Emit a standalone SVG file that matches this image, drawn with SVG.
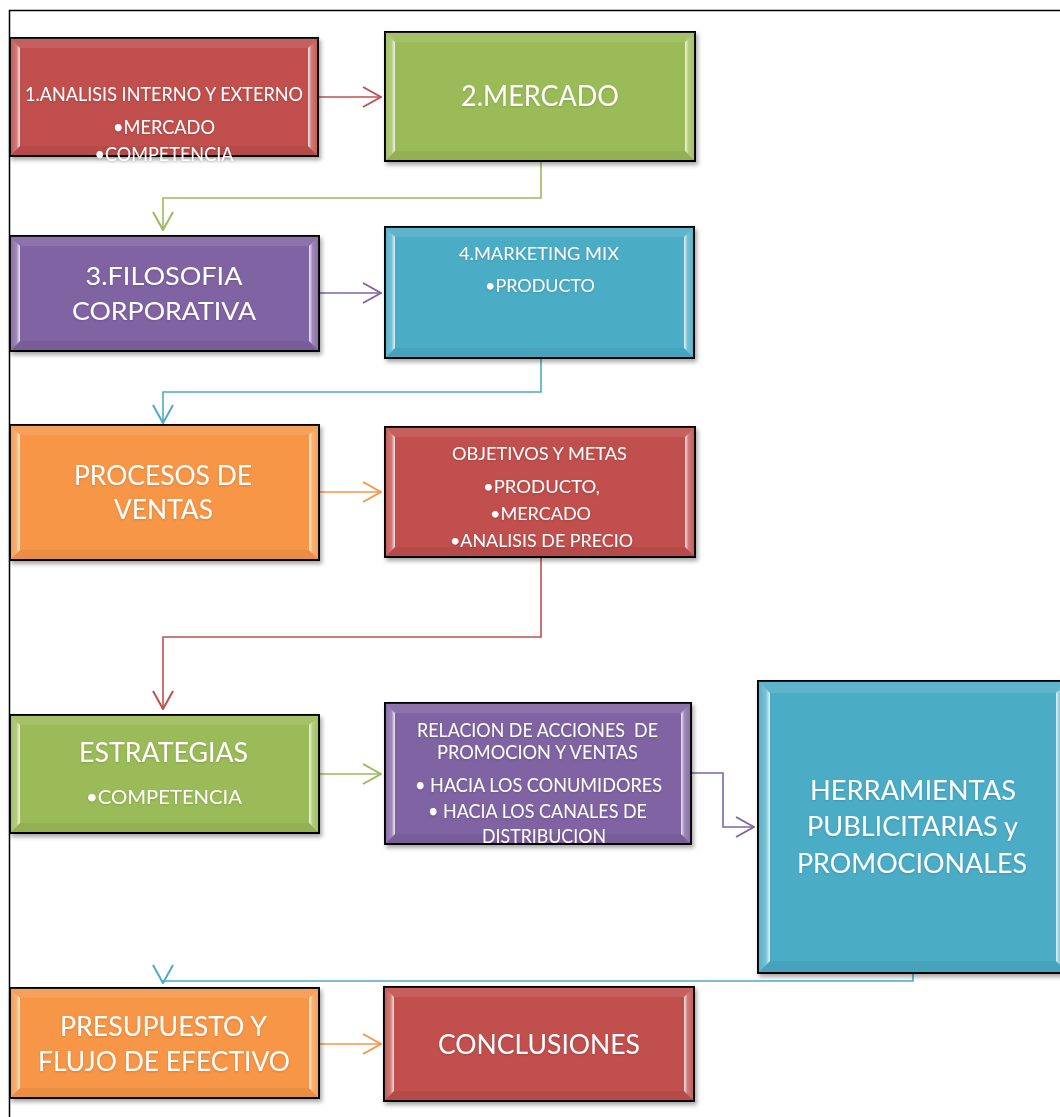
<svg xmlns="http://www.w3.org/2000/svg" width="1060" height="1117" viewBox="0 0 1060 1117">
<style>
.box{stroke:#000;stroke-width:2}
.red{fill:#C0504D}.green{fill:#9BBB59}.purple{fill:#8064A2}.teal{fill:#4BACC6}.orange{fill:#F79646}
.fl{fill:url(#gL)}.fr{fill:url(#gR)}.ft{fill:#fff;fill-opacity:0.1}.fb{fill:#000;fill-opacity:0.05}
text{fill:#fff;font-family:Lato,"Open Sans","Liberation Sans",sans-serif;text-anchor:middle;filter:url(#ts)}
.c{fill:none;stroke-width:1.6}
</style>
<defs>
<linearGradient id="gL" x1="0" y1="0" x2="1" y2="0">
<stop offset="0" stop-color="#fff" stop-opacity="0.05"/>
<stop offset="0.65" stop-color="#fff" stop-opacity="0.25"/>
<stop offset="1" stop-color="#fff" stop-opacity="0.85"/>
</linearGradient>
<linearGradient id="gR" x1="1" y1="0" x2="0" y2="0">
<stop offset="0" stop-color="#fff" stop-opacity="0.05"/>
<stop offset="0.65" stop-color="#fff" stop-opacity="0.25"/>
<stop offset="1" stop-color="#fff" stop-opacity="0.85"/>
</linearGradient>
<filter id="sh" x="-10%" y="-10%" width="125%" height="130%">
<feDropShadow dx="2" dy="3" stdDeviation="2" flood-color="#000" flood-opacity="0.35"/>
</filter>
<filter id="ts" x="-10%" y="-30%" width="120%" height="170%">
<feDropShadow dx="0" dy="1" stdDeviation="0.8" flood-color="#000" flood-opacity="0.15"/>
</filter>
<marker id="aRed" viewBox="0 0 20 22" refX="19" refY="11" markerWidth="20" markerHeight="22" markerUnits="userSpaceOnUse" orient="auto"><path d="M1,1 L19,11 L1,21" fill="none" stroke="#C0504D" stroke-width="2"/></marker>
<marker id="aGreen" viewBox="0 0 20 22" refX="19" refY="11" markerWidth="20" markerHeight="22" markerUnits="userSpaceOnUse" orient="auto"><path d="M1,1 L19,11 L1,21" fill="none" stroke="#9BBB59" stroke-width="2"/></marker>
<marker id="aPurple" viewBox="0 0 20 22" refX="19" refY="11" markerWidth="20" markerHeight="22" markerUnits="userSpaceOnUse" orient="auto"><path d="M1,1 L19,11 L1,21" fill="none" stroke="#8064A2" stroke-width="2"/></marker>
<marker id="aTeal" viewBox="0 0 20 22" refX="19" refY="11" markerWidth="20" markerHeight="22" markerUnits="userSpaceOnUse" orient="auto"><path d="M1,1 L19,11 L1,21" fill="none" stroke="#4BACC6" stroke-width="2"/></marker>
<marker id="aOrange" viewBox="0 0 20 22" refX="19" refY="11" markerWidth="20" markerHeight="22" markerUnits="userSpaceOnUse" orient="auto"><path d="M1,1 L19,11 L1,21" fill="none" stroke="#F79646" stroke-width="2"/></marker>
</defs>
<rect width="1060" height="1117" fill="#fff"/>
<rect id="frame" x="9.5" y="10.5" width="1100" height="1200" fill="none" stroke="#000" stroke-width="1.5"/>

<g id="connectors">
<path class="c" stroke="#C0504D" marker-end="url(#aRed)" d="M318,97 H381"/>
<path class="c" stroke="#9BBB59" marker-end="url(#aGreen)" d="M541,161 V198 H163 V230"/>
<path class="c" stroke="#8064A2" marker-end="url(#aPurple)" d="M319,293 H381"/>
<path class="c" stroke="#4BACC6" marker-end="url(#aTeal)" d="M541,358 V392 H163 V423"/>
<path class="c" stroke="#F79646" marker-end="url(#aOrange)" d="M319,492 H381"/>
<path class="c" stroke="#C0504D" marker-end="url(#aRed)" d="M541,557 V637 H163 V709"/>
<path class="c" stroke="#9BBB59" marker-end="url(#aGreen)" d="M319,774 H381"/>
<path class="c" stroke="#8064A2" marker-end="url(#aPurple)" d="M691,773 H723 V827 H754"/>
<path class="c" stroke="#4BACC6" marker-end="url(#aTeal)" d="M913,973 V981 H163 V983"/>
<path class="c" stroke="#F79646" marker-end="url(#aOrange)" d="M319,1044 H381"/>
</g>

<g id="n1">
<rect class="box red" x="10" y="38" width="308" height="118" filter="url(#sh)"/>
<polygon class="ft" points="10,38 318,38 308,48 20,48"/>
<polygon class="fb" points="10,156 20,146 308,146 318,156"/>
<polygon class="fl" points="10,38 20,48 20,146 10,156"/>
<polygon class="fr" points="318,38 318,156 308,146 308,48"/>
<text x="164" y="101" font-size="19" textLength="278" lengthAdjust="spacingAndGlyphs">1.ANALISIS INTERNO Y EXTERNO</text>
<text x="164" y="134" font-size="19" textLength="102" lengthAdjust="spacingAndGlyphs">•MERCADO</text>
<text x="164" y="161" font-size="19" textLength="139" lengthAdjust="spacingAndGlyphs">•COMPETENCIA</text>
</g>

<g id="n2">
<rect class="box green" x="385" y="32" width="310" height="129" filter="url(#sh)"/>
<polygon class="ft" points="385,32 695,32 685,42 395,42"/>
<polygon class="fb" points="385,161 395,151 685,151 695,161"/>
<polygon class="fl" points="385,32 395,42 395,151 385,161"/>
<polygon class="fr" points="695,32 695,161 685,151 685,42"/>
<text x="540" y="106" font-size="28" textLength="158" lengthAdjust="spacingAndGlyphs">2.MERCADO</text>
</g>

<g id="n3">
<rect class="box purple" x="10" y="236" width="309" height="115" filter="url(#sh)"/>
<polygon class="ft" points="10,236 319,236 309,246 20,246"/>
<polygon class="fb" points="10,351 20,341 309,341 319,351"/>
<polygon class="fl" points="10,236 20,246 20,341 10,351"/>
<polygon class="fr" points="319,236 319,351 309,341 309,246"/>
<text x="164" y="285" font-size="25" textLength="157" lengthAdjust="spacingAndGlyphs">3.FILOSOFIA</text>
<text x="164" y="320" font-size="25" textLength="184" lengthAdjust="spacingAndGlyphs">CORPORATIVA</text>
</g>

<g id="n4">
<rect class="box teal" x="385" y="227" width="309" height="131" filter="url(#sh)"/>
<polygon class="ft" points="385,227 694,227 684,237 395,237"/>
<polygon class="fb" points="385,358 395,348 684,348 694,358"/>
<polygon class="fl" points="385,227 395,237 395,348 385,358"/>
<polygon class="fr" points="694,227 694,358 684,348 684,237"/>
<text x="539" y="260" font-size="18" textLength="160" lengthAdjust="spacingAndGlyphs">4.MARKETING MIX</text>
<text x="540" y="292" font-size="18" textLength="110" lengthAdjust="spacingAndGlyphs">•PRODUCTO</text>
</g>

<g id="n5">
<rect class="box orange" x="10" y="425" width="309" height="135" filter="url(#sh)"/>
<polygon class="ft" points="10,425 319,425 309,435 20,435"/>
<polygon class="fb" points="10,560 20,550 309,550 319,560"/>
<polygon class="fl" points="10,425 20,435 20,550 10,560"/>
<polygon class="fr" points="319,425 319,560 309,550 309,435"/>
<text x="163" y="485" font-size="27" textLength="178" lengthAdjust="spacingAndGlyphs">PROCESOS DE</text>
<text x="163.5" y="519" font-size="27" textLength="99" lengthAdjust="spacingAndGlyphs">VENTAS</text>
</g>

<g id="n6">
<rect class="box red" x="385" y="427" width="310" height="130" filter="url(#sh)"/>
<polygon class="ft" points="385,427 695,427 685,437 395,437"/>
<polygon class="fb" points="385,557 395,547 685,547 695,557"/>
<polygon class="fl" points="385,427 395,437 395,547 385,557"/>
<polygon class="fr" points="695,427 695,557 685,547 685,437"/>
<text x="539.5" y="460" font-size="18" textLength="175" lengthAdjust="spacingAndGlyphs">OBJETIVOS Y METAS</text>
<text x="541.5" y="493" font-size="18" textLength="117" lengthAdjust="spacingAndGlyphs">•PRODUCTO,</text>
<text x="540.5" y="520" font-size="18" textLength="101" lengthAdjust="spacingAndGlyphs">•MERCADO</text>
<text x="541.5" y="547" font-size="18" textLength="183" lengthAdjust="spacingAndGlyphs">•ANALISIS DE PRECIO</text>
</g>

<g id="n7">
<rect class="box green" x="10" y="715" width="309" height="118" filter="url(#sh)"/>
<polygon class="ft" points="10,715 319,715 309,725 20,725"/>
<polygon class="fb" points="10,833 20,823 309,823 319,833"/>
<polygon class="fl" points="10,715 20,725 20,823 10,833"/>
<polygon class="fr" points="319,715 319,833 309,823 309,725"/>
<text x="163.5" y="762" font-size="27" textLength="169" lengthAdjust="spacingAndGlyphs">ESTRATEGIAS</text>
<text x="164" y="804" font-size="20" textLength="156" lengthAdjust="spacingAndGlyphs">•COMPETENCIA</text>
</g>

<g id="n8">
<rect class="box purple" x="385" y="703" width="306" height="141" filter="url(#sh)"/>
<polygon class="ft" points="385,703 691,703 681,713 395,713"/>
<polygon class="fb" points="385,844 395,834 681,834 691,844"/>
<polygon class="fl" points="385,703 395,713 395,834 385,844"/>
<polygon class="fr" points="691,703 691,844 681,834 681,713"/>
<text x="537.5" y="737" font-size="19" textLength="241" lengthAdjust="spacingAndGlyphs" xml:space="preserve">RELACION DE ACCIONES  DE</text>
<text x="537.5" y="759" font-size="19" textLength="201" lengthAdjust="spacingAndGlyphs">PROMOCION Y VENTAS</text>
<text x="538.5" y="792" font-size="19" textLength="247" lengthAdjust="spacingAndGlyphs">• HACIA LOS CONUMIDORES</text>
<text x="537.5" y="818" font-size="19" textLength="219" lengthAdjust="spacingAndGlyphs">• HACIA LOS CANALES DE</text>
<text x="544" y="843" font-size="19" textLength="124" lengthAdjust="spacingAndGlyphs">DISTRIBUCION</text>
</g>

<g id="n9">
<rect class="box teal" x="758" y="681" width="310" height="292" filter="url(#sh)"/>
<polygon class="ft" points="758,681 1068,681 1056,693 770,693"/>
<polygon class="fb" points="758,973 770,961 1056,961 1068,973"/>
<polygon class="fl" points="758,681 770,693 770,961 758,973"/>
<polygon class="fr" points="1068,681 1068,973 1056,961 1056,693"/>
<text x="913" y="800" font-size="26" textLength="206" lengthAdjust="spacingAndGlyphs">HERRAMIENTAS</text>
<text x="912.5" y="836" font-size="26" textLength="211" lengthAdjust="spacingAndGlyphs">PUBLICITARIAS y</text>
<text x="912" y="873" font-size="26" textLength="230" lengthAdjust="spacingAndGlyphs">PROMOCIONALES</text>
</g>

<g id="n10">
<rect class="box orange" x="10" y="988" width="309" height="110" filter="url(#sh)"/>
<polygon class="ft" points="10,988 319,988 309,998 20,998"/>
<polygon class="fb" points="10,1098 20,1088 309,1088 319,1098"/>
<polygon class="fl" points="10,988 20,998 20,1088 10,1098"/>
<polygon class="fr" points="319,988 319,1098 309,1088 309,998"/>
<text x="163.5" y="1036" font-size="27" textLength="207" lengthAdjust="spacingAndGlyphs">PRESUPUESTO Y</text>
<text x="164" y="1071" font-size="27" textLength="252" lengthAdjust="spacingAndGlyphs">FLUJO DE EFECTIVO</text>
</g>

<g id="n11">
<rect class="box red" x="384" y="987" width="310" height="114" filter="url(#sh)"/>
<polygon class="ft" points="384,987 694,987 684,997 394,997"/>
<polygon class="fb" points="384,1101 394,1091 684,1091 694,1101"/>
<polygon class="fl" points="384,987 394,997 394,1091 384,1101"/>
<polygon class="fr" points="694,987 694,1101 684,1091 684,997"/>
<text x="539" y="1054" font-size="27" textLength="202" lengthAdjust="spacingAndGlyphs">CONCLUSIONES</text>
</g>
</svg>
